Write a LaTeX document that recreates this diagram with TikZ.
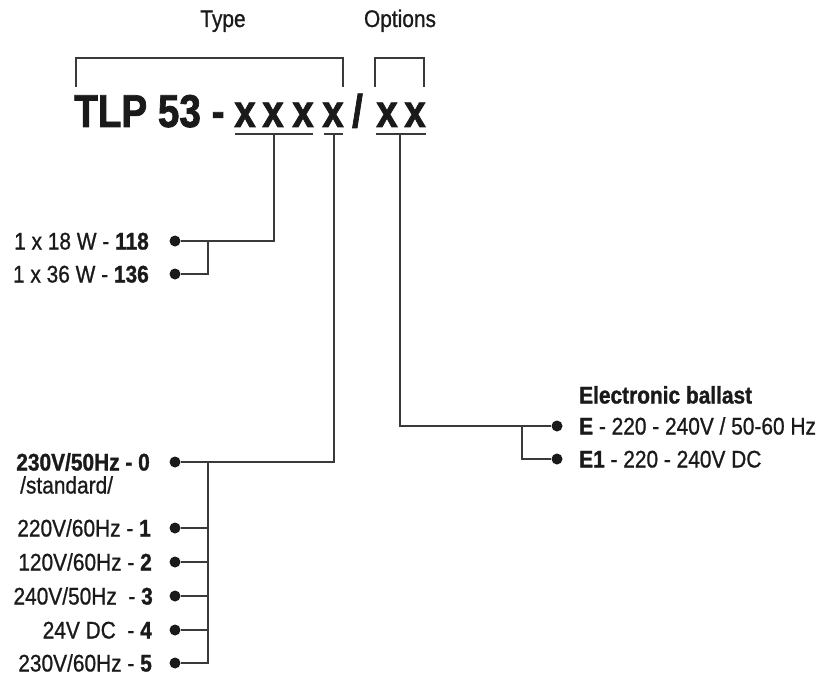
\documentclass[tikz,border=0pt]{standalone}
\usepackage{fontspec}
\setmainfont{Liberation Sans}[FakeStretch=0.87, UprightFeatures={FakeBold=0.9}, BoldFeatures={FakeBold=1.2}]
\newfontfamily\titlefont{Liberation Sans}[FakeStretch=0.84, UprightFeatures={FakeBold=1.0}, BoldFeatures={FakeBold=1.6}]
\definecolor{linec}{HTML}{3A3A3A}
\definecolor{txt}{HTML}{1A1A1A}
\begin{document}
\begin{tikzpicture}[x=1pt,y=-1pt,
  lbl/.style={font=\fontsize{24}{26}\selectfont, text=txt, inner sep=0pt, text height=17pt, text depth=0pt},
  ttl/.style={font=\fontsize{46}{48}\selectfont\titlefont\bfseries, text=txt, inner sep=0pt, anchor=base},
  xch/.style={font=\fontsize{46}{48}\selectfont\titlefont\bfseries, text=txt, inner sep=0pt, anchor=base},
  dotn/.style={circle, fill=txt, inner sep=0pt, minimum size=11pt},
  conn/.style={draw=linec, line width=1.6pt}]
\useasboundingbox (0,0) rectangle (826,679);
% headings
\node[lbl, anchor=center] (type) at (223,18.5) {Type};
\node[lbl, anchor=center] (opts) at (400,18.5) {Options};
% brackets
\coordinate (tb1) at (76,87); \coordinate (tb2) at (343,58); \coordinate (tb3) at (343,87);
\coordinate (ob1) at (375,87); \coordinate (ob2) at (424,58); \coordinate (ob3) at (424,87);
\draw[conn] (tb1) |- (tb2) -- (tb3);
\draw[conn] (ob1) |- (ob2) -- (ob3);
% title
\node[ttl, anchor=base west] (tlp) at (74,127) {TLP 53 -};
\node[xch] (x1) at (245,127) {x};
\node[xch] (x2) at (273,127) {x};
\node[xch] (x3) at (303,127) {x};
\node[xch] (x4) at (333,127) {x};
\node[xch] (sl) at (357.5,127) {/};
\node[xch] (x5) at (387,127) {x};
\node[xch] (x6) at (415,127) {x};
% underlines
\coordinate (u1l) at (235,134); \coordinate (u1r) at (313,134); \coordinate (u1m) at (274,134);
\coordinate (u2l) at (324,134); \coordinate (u2r) at (343,134); \coordinate (u2m) at (334,134);
\coordinate (u3l) at (376,134); \coordinate (u3r) at (426,134); \coordinate (u3m) at (400,134);
\draw[conn] (u1l) -- (u1r);
\draw[conn] (u2l) -- (u2r);
\draw[conn] (u3l) -- (u3r);
% power group
\node[dotn] (d18) at (175,241) {};
\node[dotn] (d36) at (175,274) {};
\node[lbl, anchor=east] (l18) at (149,241) {1 x 18 W - \textbf{118}};
\node[lbl, anchor=east] (l36) at (149,274) {1 x 36 W - \textbf{136}};
\coordinate (br1) at (208,241);
\draw[conn] (u1m) |- (d18);
\draw[conn] (br1) |- (d36);
% voltage group
\node[dotn] (d0) at (175,462) {};
\node[dotn] (d1) at (175,528) {};
\node[dotn] (d2) at (175,562) {};
\node[dotn] (d3) at (175,596) {};
\node[dotn] (d4) at (175,630) {};
\node[dotn] (d5) at (175,663) {};
\node[lbl, anchor=east] (l0) at (150,462) {\textbf{230V/50Hz - 0}};
\node[lbl, anchor=west] (lstd) at (20,485) {/standard/};
\node[lbl, anchor=east] (l1) at (151,528) {220V/60Hz - \textbf{1}};
\node[lbl, anchor=east] (l2) at (152,562) {120V/60Hz - \textbf{2}};
\node[lbl, anchor=east] (l3) at (153,596) {240V/50Hz \ - \textbf{3}};
\node[lbl, anchor=east] (l4) at (152,630) {24V DC \ - \textbf{4}};
\node[lbl, anchor=east] (l5) at (152,663) {230V/60Hz - \textbf{5}};
\coordinate (br2) at (208,462);
\draw[conn] (u2m) |- (d0);
\draw[conn] (br2) |- (d5);
\foreach \d in {d1,d2,d3,d4} \draw[conn] (br2 |- \d) -- (\d);
% options group
\node[lbl, anchor=west] (eb) at (579,395) {\textbf{Electronic ballast}};
\node[dotn] (dE) at (557,426) {};
\node[dotn] (dE1) at (557,459) {};
\node[lbl, anchor=west] (lE) at (579,426) {\textbf{E} - 220 - 240V / 50-60 Hz};
\node[lbl, anchor=west] (lE1) at (579,459) {\textbf{E1} - 220 - 240V DC};
\coordinate (br3) at (522,426);
\draw[conn] (u3m) |- (dE);
\draw[conn] (br3) |- (dE1);
\end{tikzpicture}
\end{document}
